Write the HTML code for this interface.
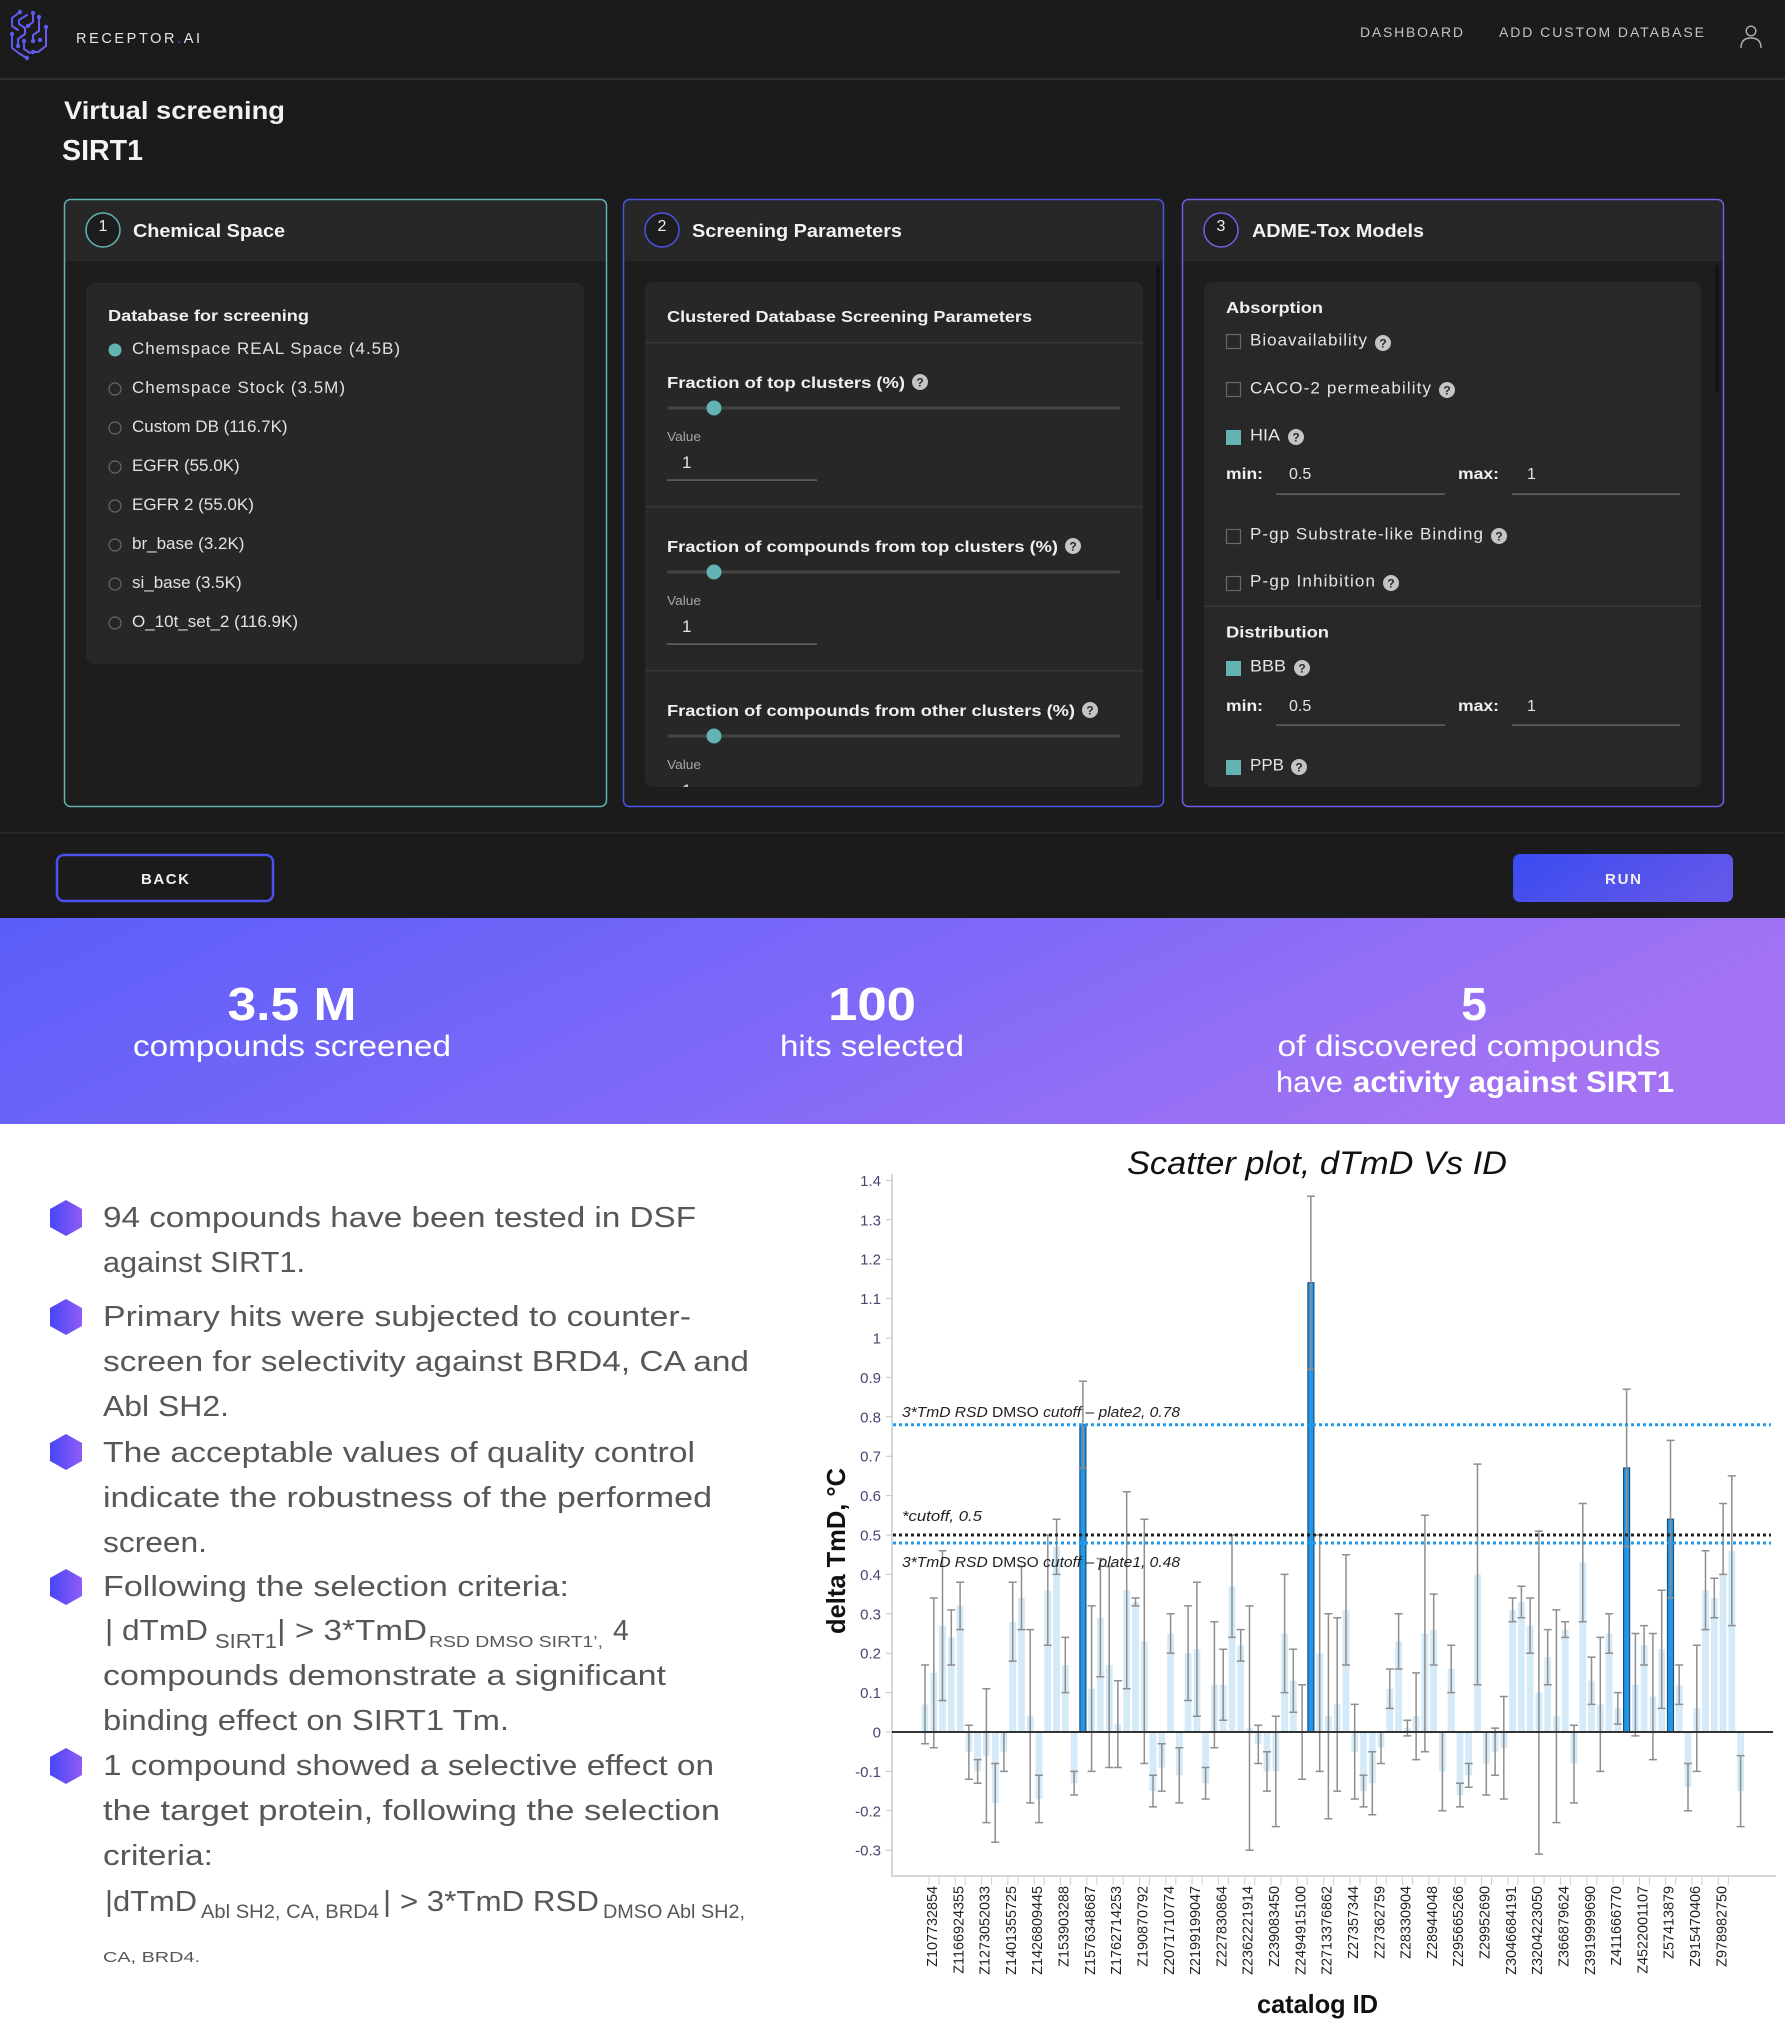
<!DOCTYPE html>
<html><head><meta charset="utf-8"><style>html,body{margin:0;padding:0;background:#fff;}svg{display:block;}</style></head>
<body>
<svg xmlns="http://www.w3.org/2000/svg" width="1785" height="2040" viewBox="0 0 1785 2040" font-family="'Liberation Sans', Arial, sans-serif">
<defs>
<linearGradient id="ban" x1="0" y1="0" x2="1" y2="0.25"><stop offset="0" stop-color="#5b5ef9"/><stop offset="0.55" stop-color="#7f69f8"/><stop offset="1" stop-color="#a373f3"/></linearGradient>
<linearGradient id="run" x1="0" y1="0" x2="1" y2="0.3"><stop offset="0" stop-color="#3a4bf0"/><stop offset="1" stop-color="#6157ea"/></linearGradient>
<linearGradient id="hex" x1="0" y1="0" x2="1" y2="0"><stop offset="0" stop-color="#4646f7"/><stop offset="1" stop-color="#905cf5"/></linearGradient>
<linearGradient id="logo" x1="0" y1="0" x2="1" y2="1"><stop offset="0" stop-color="#4a5cf0"/><stop offset="1" stop-color="#7a5af2"/></linearGradient>
<clipPath id="c2"><rect x="645" y="282" width="498" height="505" rx="8"/></clipPath>
</defs>

<!-- backgrounds -->
<rect width="1785" height="918" fill="#1b1b1b"/>
<rect y="918" width="1785" height="206" fill="url(#ban)"/>
<rect y="1124" width="1785" height="916" fill="#ffffff"/>
<rect y="78" width="1785" height="2" fill="#2f2f2f"/>

<!-- logo -->
<g stroke="url(#logo)" stroke-width="2" fill="none" stroke-linecap="round" stroke-linejoin="round">
<path d="M20 12 L12 18 L12 26 L18 30"/>
<path d="M27 15 L19 20 L19 24 L25 28 L25 34 L18 39 L18 46"/>
<path d="M33 13 V22 L28 26"/>
<path d="M39 17 V31 L33 35 V41"/>
<path d="M12 34 V48 L20 54 L27 58"/>
<path d="M24 41 V49 L30 53"/>
<path d="M46 27 V46 L38 52 L33 52"/>
<path d="M40 40 V46"/>
</g>
<g fill="#5a5cf0">
<circle cx="20" cy="12" r="2.2"/><circle cx="33" cy="13" r="2.2"/><circle cx="39" cy="17" r="2.2"/><circle cx="46" cy="27" r="2.2"/><circle cx="12" cy="34" r="2.2"/><circle cx="27" cy="58" r="2.2"/><circle cx="33" cy="52" r="2.2"/><circle cx="28" cy="26" r="2.2"/><circle cx="33" cy="41" r="2.2"/><circle cx="18" cy="46" r="2.2"/><circle cx="40" cy="40" r="2.2"/><circle cx="24" cy="41" r="2.2"/>
</g>
<text x="76" y="43" font-size="14.5" fill="#e4e4e4" textLength="124" lengthAdjust="spacing">RECEPTOR<tspan fill="#4d5cf2">.</tspan>AI</text>

<!-- nav -->
<text x="1360" y="37" font-size="14" fill="#c4c4c4" textLength="103" lengthAdjust="spacing">DASHBOARD</text>
<text x="1499" y="37" font-size="14" fill="#c4c4c4" textLength="205" lengthAdjust="spacing">ADD CUSTOM DATABASE</text>
<circle cx="1751" cy="31" r="4.8" fill="none" stroke="#b0b0b0" stroke-width="1.4"/>
<path d="M1741 48 Q1741 38 1751 38 Q1761 38 1761 48" fill="none" stroke="#b0b0b0" stroke-width="1.4"/>

<!-- titles -->
<text x="64" y="119" font-size="25" font-weight="bold" fill="#f2f2f2" textLength="221" lengthAdjust="spacingAndGlyphs">Virtual screening</text>
<text x="62" y="160" font-size="29" font-weight="bold" fill="#f2f2f2" textLength="81" lengthAdjust="spacingAndGlyphs">SIRT1</text>

<!-- PANEL 1 -->
<rect x="64.5" y="199.5" width="542" height="607" rx="6" fill="#1d1d1d"/>
<path d="M65.5 261 V206 Q65.5 200.5 71 200.5 H600 Q605.5 200.5 605.5 206 V261 Z" fill="#272727"/>
<rect x="64.5" y="199.5" width="542" height="607" rx="6" fill="none" stroke="#63b3b4" stroke-width="1.5"/>
<circle cx="103" cy="230" r="17" fill="#1d1d1d" stroke="#63b3b4" stroke-width="1.5"/>
<text x="103" y="231" font-size="16" fill="#f0f0f0" text-anchor="middle">1</text>
<text x="133" y="237" font-size="18.5" font-weight="bold" fill="#f2f2f2" textLength="152" lengthAdjust="spacingAndGlyphs">Chemical Space</text>
<rect x="86" y="283" width="498" height="381" rx="8" fill="#272727"/>
<text x="108" y="321" font-size="16" font-weight="bold" fill="#f0f0f0" textLength="201" lengthAdjust="spacingAndGlyphs">Database for screening</text>
<g font-size="17" fill="#e2e2e2">
<circle cx="115" cy="350" r="6.5" fill="#63b3b4"/>
<text x="132" y="354" textLength="268" lengthAdjust="spacing">Chemspace REAL Space (4.5B)</text>
<circle cx="115" cy="389" r="6" fill="none" stroke="#6a6a6a" stroke-width="1.2"/>
<text x="132" y="393" textLength="213" lengthAdjust="spacing">Chemspace Stock (3.5M)</text>
<circle cx="115" cy="428" r="6" fill="none" stroke="#6a6a6a" stroke-width="1.2"/>
<text x="132" y="432">Custom DB (116.7K)</text>
<circle cx="115" cy="467" r="6" fill="none" stroke="#6a6a6a" stroke-width="1.2"/>
<text x="132" y="471">EGFR (55.0K)</text>
<circle cx="115" cy="506" r="6" fill="none" stroke="#6a6a6a" stroke-width="1.2"/>
<text x="132" y="510">EGFR 2 (55.0K)</text>
<circle cx="115" cy="545" r="6" fill="none" stroke="#6a6a6a" stroke-width="1.2"/>
<text x="132" y="549">br_base (3.2K)</text>
<circle cx="115" cy="584" r="6" fill="none" stroke="#6a6a6a" stroke-width="1.2"/>
<text x="132" y="588">si_base (3.5K)</text>
<circle cx="115" cy="623" r="6" fill="none" stroke="#6a6a6a" stroke-width="1.2"/>
<text x="132" y="627">O_10t_set_2 (116.9K)</text>
</g>

<!-- PANEL 2 -->
<rect x="623.5" y="199.5" width="540" height="607" rx="6" fill="#1d1d1d"/>
<path d="M624.5 261 V206 Q624.5 200.5 630 200.5 H1157 Q1162.5 200.5 1162.5 206 V261 Z" fill="#272727"/>
<rect x="623.5" y="199.5" width="540" height="607" rx="6" fill="none" stroke="#4a55e8" stroke-width="1.5"/>
<circle cx="662" cy="230" r="17" fill="#1d1d1d" stroke="#4a55e8" stroke-width="1.5"/>
<text x="662" y="231" font-size="16" fill="#f0f0f0" text-anchor="middle">2</text>
<text x="692" y="237" font-size="18.5" font-weight="bold" fill="#f2f2f2" textLength="210" lengthAdjust="spacingAndGlyphs">Screening Parameters</text>
<rect x="1156" y="265" width="4" height="335" rx="2" fill="#131313"/>
<g clip-path="url(#c2)">
<rect x="645" y="282" width="498" height="505" fill="#272727"/>
<text x="667" y="322" font-size="16" font-weight="bold" fill="#f0f0f0" textLength="365" lengthAdjust="spacingAndGlyphs">Clustered Database Screening Parameters</text>
<rect x="645" y="342" width="498" height="1.5" fill="#363636"/>
<g>
<rect x="667" y="406.5" width="453" height="3" rx="1.5" fill="#444"/>
<circle cx="714" cy="408" r="7.5" fill="#63b3b4"/>
<text x="667" y="441" font-size="13" fill="#a6a6a6" textLength="34" lengthAdjust="spacingAndGlyphs">Value</text>
<text x="682" y="468" font-size="17" fill="#e2e2e2">1</text>
<rect x="667" y="479.5" width="150" height="1.2" fill="#747474"/>
</g>
<text x="667" y="388" font-size="16" font-weight="bold" fill="#f0f0f0" textLength="238" lengthAdjust="spacingAndGlyphs">Fraction of top clusters (%)</text>
<circle cx="920" cy="382" r="8" fill="#c4c4c4"/><text x="920" y="386.5" font-size="12" font-weight="bold" fill="#2a2a2a" text-anchor="middle">?</text>
<rect x="645" y="506" width="498" height="1.5" fill="#363636"/>
<g transform="translate(0,164)">
<rect x="667" y="406.5" width="453" height="3" rx="1.5" fill="#444"/>
<circle cx="714" cy="408" r="7.5" fill="#63b3b4"/>
<text x="667" y="441" font-size="13" fill="#a6a6a6" textLength="34" lengthAdjust="spacingAndGlyphs">Value</text>
<text x="682" y="468" font-size="17" fill="#e2e2e2">1</text>
<rect x="667" y="479.5" width="150" height="1.2" fill="#747474"/>
</g>
<text x="667" y="552" font-size="16" font-weight="bold" fill="#f0f0f0" textLength="391" lengthAdjust="spacingAndGlyphs">Fraction of compounds from top clusters (%)</text>
<circle cx="1073" cy="546" r="8" fill="#c4c4c4"/><text x="1073" y="550.5" font-size="12" font-weight="bold" fill="#2a2a2a" text-anchor="middle">?</text>
<rect x="645" y="670" width="498" height="1.5" fill="#363636"/>
<g transform="translate(0,328)">
<rect x="667" y="406.5" width="453" height="3" rx="1.5" fill="#444"/>
<circle cx="714" cy="408" r="7.5" fill="#63b3b4"/>
<text x="667" y="441" font-size="13" fill="#a6a6a6" textLength="34" lengthAdjust="spacingAndGlyphs">Value</text>
<text x="682" y="468" font-size="17" fill="#e2e2e2">1</text>
</g>
<text x="667" y="716" font-size="16" font-weight="bold" fill="#f0f0f0" textLength="408" lengthAdjust="spacingAndGlyphs">Fraction of compounds from other clusters (%)</text>
<circle cx="1090" cy="710" r="8" fill="#c4c4c4"/><text x="1090" y="714.5" font-size="12" font-weight="bold" fill="#2a2a2a" text-anchor="middle">?</text>
</g>

<!-- PANEL 3 -->
<rect x="1182.5" y="199.5" width="541" height="607" rx="6" fill="#1d1d1d"/>
<path d="M1183.5 261 V206 Q1183.5 200.5 1189 200.5 H1717 Q1722.5 200.5 1722.5 206 V261 Z" fill="#272727"/>
<rect x="1182.5" y="199.5" width="541" height="607" rx="6" fill="none" stroke="#7a5ae8" stroke-width="1.5"/>
<circle cx="1221" cy="230" r="17" fill="#1d1d1d" stroke="#7a5ae8" stroke-width="1.5"/>
<text x="1221" y="231" font-size="16" fill="#f0f0f0" text-anchor="middle">3</text>
<text x="1252" y="237" font-size="18.5" font-weight="bold" fill="#f2f2f2" textLength="172" lengthAdjust="spacingAndGlyphs">ADME-Tox Models</text>
<rect x="1715" y="265" width="4" height="127" rx="2" fill="#131313"/>
<rect x="1204" y="282" width="497" height="505" rx="8" fill="#282828"/>
<g fill="#e4e4e4" font-size="17">
<text x="1226" y="313" font-size="16" font-weight="bold" fill="#f0f0f0" textLength="97" lengthAdjust="spacingAndGlyphs">Absorption</text>
<rect x="1226.5" y="334.5" width="14" height="14" fill="none" stroke="#6a6a6a" stroke-width="1.2"/>
<text x="1250" y="345.5" textLength="117" lengthAdjust="spacing">Bioavailability</text>
<rect x="1226.5" y="382.5" width="14" height="14" fill="none" stroke="#6a6a6a" stroke-width="1.2"/>
<text x="1250" y="393.5" textLength="181" lengthAdjust="spacing">CACO-2 permeability</text>
<rect x="1226" y="430" width="15" height="15" fill="#63b3b4"/>
<text x="1250" y="440.5" textLength="30" lengthAdjust="spacingAndGlyphs">HIA</text>
<text x="1226" y="479" font-size="16" font-weight="bold" fill="#f0f0f0" textLength="37" lengthAdjust="spacingAndGlyphs">min:</text>
<text x="1289" y="479" font-size="16">0.5</text>
<rect x="1276" y="493.5" width="169" height="1.2" fill="#747474"/>
<text x="1458" y="479" font-size="16" font-weight="bold" fill="#f0f0f0" textLength="41" lengthAdjust="spacingAndGlyphs">max:</text>
<text x="1527" y="479" font-size="16">1</text>
<rect x="1512" y="493.5" width="168" height="1.2" fill="#747474"/>
<rect x="1226.5" y="529.5" width="14" height="14" fill="none" stroke="#6a6a6a" stroke-width="1.2"/>
<text x="1250" y="539.5" textLength="233" lengthAdjust="spacing">P-gp Substrate-like Binding</text>
<rect x="1226.5" y="576.5" width="14" height="14" fill="none" stroke="#6a6a6a" stroke-width="1.2"/>
<text x="1250" y="586.5" textLength="125" lengthAdjust="spacing">P-gp Inhibition</text>
<rect x="1204" y="605.5" width="497" height="1.5" fill="#363636"/>
<text x="1226" y="637.5" font-size="16" font-weight="bold" fill="#f0f0f0" textLength="103" lengthAdjust="spacingAndGlyphs">Distribution</text>
<rect x="1226" y="661" width="15" height="15" fill="#63b3b4"/>
<text x="1250" y="671.5" textLength="36" lengthAdjust="spacingAndGlyphs">BBB</text>
<text x="1226" y="711" font-size="16" font-weight="bold" fill="#f0f0f0" textLength="37" lengthAdjust="spacingAndGlyphs">min:</text>
<text x="1289" y="711" font-size="16">0.5</text>
<rect x="1276" y="724.5" width="169" height="1.2" fill="#747474"/>
<text x="1458" y="711" font-size="16" font-weight="bold" fill="#f0f0f0" textLength="41" lengthAdjust="spacingAndGlyphs">max:</text>
<text x="1527" y="711" font-size="16">1</text>
<rect x="1512" y="724.5" width="168" height="1.2" fill="#747474"/>
<rect x="1226" y="760" width="15" height="15" fill="#63b3b4"/>
<text x="1250" y="770.5" textLength="34" lengthAdjust="spacingAndGlyphs">PPB</text>
</g>
<g fill="#c4c4c4">
<circle cx="1383" cy="343" r="8"/><circle cx="1447" cy="390" r="8"/><circle cx="1296" cy="437" r="8"/><circle cx="1499" cy="536" r="8"/><circle cx="1391" cy="583" r="8"/><circle cx="1302" cy="668" r="8"/><circle cx="1299" cy="767" r="8"/>
</g>
<g font-size="12" font-weight="bold" fill="#2a2a2a" text-anchor="middle">
<text x="1383" y="347.5">?</text><text x="1447" y="394.5">?</text><text x="1296" y="441.5">?</text><text x="1499" y="540.5">?</text><text x="1391" y="587.5">?</text><text x="1302" y="672.5">?</text><text x="1299" y="771.5">?</text>
</g>

<!-- bottom bar -->
<rect y="832" width="1785" height="1.5" fill="#2c2c2c"/>
<rect x="57" y="855" width="216" height="46" rx="7" fill="#1b1b1b" stroke="#4b50ee" stroke-width="2.5"/>
<text x="165" y="884" font-size="15" font-weight="bold" fill="#f0f0f0" text-anchor="middle" textLength="48" lengthAdjust="spacing">BACK</text>
<rect x="1513" y="854" width="220" height="48" rx="7" fill="url(#run)"/>
<text x="1623" y="884" font-size="15" font-weight="bold" fill="#f0f0f0" text-anchor="middle" textLength="36" lengthAdjust="spacing">RUN</text>

<!-- banner -->
<g fill="#ffffff" text-anchor="middle">
<text x="292" y="1020" font-size="46" font-weight="bold" textLength="129" lengthAdjust="spacingAndGlyphs">3.5 M</text>
<text x="292" y="1056" font-size="30" textLength="318" lengthAdjust="spacingAndGlyphs">compounds screened</text>
<text x="872" y="1020" font-size="46" font-weight="bold" textLength="88" lengthAdjust="spacingAndGlyphs">100</text>
<text x="872" y="1056" font-size="30" textLength="184" lengthAdjust="spacingAndGlyphs">hits selected</text>
<text x="1474" y="1020" font-size="46" font-weight="bold">5</text>
<text x="1469" y="1056" font-size="30" textLength="383" lengthAdjust="spacingAndGlyphs">of discovered compounds</text>
</g>
<text x="1276" y="1092" font-size="30" fill="#fff" textLength="67" lengthAdjust="spacingAndGlyphs">have</text>
<text x="1353" y="1092" font-size="30" font-weight="bold" fill="#fff" textLength="321" lengthAdjust="spacingAndGlyphs">activity against SIRT1</text>

<!-- left bullets -->
<g fill="url(#hex)">
<path d="M66 1200 L82 1209 L82 1227 L66 1236 L50 1227 L50 1209 Z"/>
<path d="M66 1299 L82 1308 L82 1326 L66 1335 L50 1326 L50 1308 Z"/>
<path d="M66 1434 L82 1443 L82 1461 L66 1470 L50 1461 L50 1443 Z"/>
<path d="M66 1569 L82 1578 L82 1596 L66 1605 L50 1596 L50 1578 Z"/>
<path d="M66 1748 L82 1757 L82 1775 L66 1784 L50 1775 L50 1757 Z"/>
</g>
<g font-size="28.5" fill="#57575a">
<text x="103" y="1227" textLength="593" lengthAdjust="spacingAndGlyphs">94 compounds have been tested in DSF</text>
<text x="103" y="1272" textLength="202" lengthAdjust="spacingAndGlyphs">against SIRT1.</text>
<text x="103" y="1326" textLength="588" lengthAdjust="spacingAndGlyphs">Primary hits were subjected to counter-</text>
<text x="103" y="1371" textLength="646" lengthAdjust="spacingAndGlyphs">screen for selectivity against BRD4, CA and</text>
<text x="103" y="1416" textLength="126" lengthAdjust="spacingAndGlyphs">Abl SH2.</text>
<text x="103" y="1462" textLength="592" lengthAdjust="spacingAndGlyphs">The acceptable values of quality control</text>
<text x="103" y="1507" textLength="609" lengthAdjust="spacingAndGlyphs">indicate the robustness of the performed</text>
<text x="103" y="1552" textLength="104" lengthAdjust="spacingAndGlyphs">screen.</text>
<text x="103" y="1596" textLength="466" lengthAdjust="spacingAndGlyphs">Following the selection criteria:</text>
<text x="105" y="1640" textLength="103" lengthAdjust="spacingAndGlyphs">| dTmD</text>
<text x="215" y="1648" font-size="20" textLength="62" lengthAdjust="spacingAndGlyphs">SIRT1</text>
<text x="277" y="1640" textLength="150" lengthAdjust="spacingAndGlyphs">| &gt; 3*TmD</text>
<text x="429" y="1647" font-size="16" textLength="174" lengthAdjust="spacingAndGlyphs">RSD DMSO SIRT1’,</text>
<text x="613" y="1640">4</text>
<text x="103" y="1685" textLength="563" lengthAdjust="spacingAndGlyphs">compounds demonstrate a significant</text>
<text x="103" y="1730" textLength="406" lengthAdjust="spacingAndGlyphs">binding effect on SIRT1 Tm.</text>
<text x="103" y="1775" textLength="611" lengthAdjust="spacingAndGlyphs">1 compound showed a selective effect on</text>
<text x="103" y="1820" textLength="617" lengthAdjust="spacingAndGlyphs">the target protein, following the selection</text>
<text x="103" y="1865" textLength="110" lengthAdjust="spacingAndGlyphs">criteria:</text>
<text x="105" y="1911" textLength="92" lengthAdjust="spacingAndGlyphs">|dTmD</text>
<text x="201" y="1918" font-size="19" textLength="178" lengthAdjust="spacingAndGlyphs">Abl SH2, CA, BRD4</text>
<text x="383" y="1911" textLength="216" lengthAdjust="spacingAndGlyphs">| &gt; 3*TmD RSD</text>
<text x="603" y="1918" font-size="19" textLength="142" lengthAdjust="spacingAndGlyphs">DMSO Abl SH2,</text>
<text x="103" y="1962" font-size="15" textLength="97" lengthAdjust="spacingAndGlyphs">CA, BRD4.</text>
</g>

<!-- CHART -->
<text x="1127" y="1174" font-size="32" font-style="italic" fill="#111" textLength="380" lengthAdjust="spacingAndGlyphs">Scatter plot, dTmD Vs ID</text>
<rect x="891" y="1174" width="2" height="703" fill="#d6d6d6"/>
<rect x="891" y="1875" width="885" height="2" fill="#d6d6d6"/>
<g stroke="#c4c4c4" stroke-width="1">
<path d="M886 1180.4h6M886 1219.8h6M886 1259.2h6M886 1298.6h6M886 1338h6M886 1377.4h6M886 1416.8h6M886 1456.2h6M886 1495.6h6M886 1535h6M886 1574.4h6M886 1613.8h6M886 1653.2h6M886 1692.6h6M886 1732h6M886 1771.4h6M886 1810.8h6M886 1850.2h6"/>
</g>
<g font-size="15" fill="#4a4474" text-anchor="end">
<text x="881" y="1186">1.4</text><text x="881" y="1225.3">1.3</text><text x="881" y="1264.7">1.2</text><text x="881" y="1304.1">1.1</text><text x="881" y="1343.5">1</text><text x="881" y="1382.9">0.9</text><text x="881" y="1422.3">0.8</text><text x="881" y="1461.7">0.7</text><text x="881" y="1501.1">0.6</text><text x="881" y="1540.5">0.5</text><text x="881" y="1579.9">0.4</text><text x="881" y="1619.3">0.3</text><text x="881" y="1658.7">0.2</text><text x="881" y="1698.1">0.1</text><text x="881" y="1737.5">0</text><text x="881" y="1776.9">-0.1</text><text x="881" y="1816.3">-0.2</text><text x="881" y="1855.7">-0.3</text>
</g>
<text transform="translate(845,1551) rotate(-90)" font-size="26" font-weight="bold" fill="#111" text-anchor="middle" textLength="166" lengthAdjust="spacingAndGlyphs">delta TmD, °C</text>

<!-- light bars -->
<path fill="#d5eaf8" d="M921.6 1704.4h6.8v27.6h-6.8zM930.4 1672.9h6.8v59.1h-6.8zM939.1 1625.6h6.8v106.4h-6.8zM947.9 1637.4h6.8v94.6h-6.8zM956.7 1605.9h6.8v126.1h-6.8zM965.5 1732h6.8v19.7h-6.8zM974.2 1732h6.8v39.4h-6.8zM983 1732h6.8v23.6h-6.8zM991.8 1732h6.8v70.9h-6.8zM1000.5 1732h6.8v19.7h-6.8zM1009.3 1621.7h6.8v110.3h-6.8zM1018.1 1598h6.8v134h-6.8zM1026.8 1716.2h6.8v15.8h-6.8zM1035.6 1732h6.8v67h-6.8zM1044.4 1590.2h6.8v141.8h-6.8zM1053.2 1546.8h6.8v185.2h-6.8zM1061.9 1665h6.8v67h-6.8zM1070.7 1732h6.8v51.2h-6.8zM1088.2 1688.7h6.8v43.3h-6.8zM1097 1617.7h6.8v114.3h-6.8zM1105.8 1665h6.8v67h-6.8zM1114.5 1724.1h6.8v7.9h-6.8zM1123.3 1590.2h6.8v141.8h-6.8zM1132.1 1602h6.8v130h-6.8zM1140.9 1641.4h6.8v90.6h-6.8zM1149.6 1732h6.8v59.1h-6.8zM1158.4 1732h6.8v35.5h-6.8zM1167.2 1633.5h6.8v98.5h-6.8zM1175.9 1732h6.8v43.3h-6.8zM1184.7 1653.2h6.8v78.8h-6.8zM1193.5 1649.3h6.8v82.7h-6.8zM1202.2 1732h6.8v51.2h-6.8zM1211 1684.7h6.8v47.3h-6.8zM1219.8 1684.7h6.8v47.3h-6.8zM1228.6 1586.2h6.8v145.8h-6.8zM1237.3 1645.3h6.8v86.7h-6.8zM1246.1 1728.1h6.8v3.9h-6.8zM1254.9 1732h6.8v11.8h-6.8zM1263.6 1732h6.8v39.4h-6.8zM1272.4 1732h6.8v39.4h-6.8zM1281.2 1633.5h6.8v98.5h-6.8zM1289.9 1680.8h6.8v51.2h-6.8zM1316.3 1653.2h6.8v78.8h-6.8zM1325 1716.2h6.8v15.8h-6.8zM1333.8 1704.4h6.8v27.6h-6.8zM1342.6 1609.9h6.8v122.1h-6.8zM1351.3 1732h6.8v19.7h-6.8zM1360.1 1732h6.8v59.1h-6.8zM1368.9 1732h6.8v51.2h-6.8zM1377.6 1732h6.8v15.8h-6.8zM1386.4 1688.7h6.8v43.3h-6.8zM1395.2 1641.4h6.8v90.6h-6.8zM1404 1728.1h6.8v3.9h-6.8zM1412.7 1716.2h6.8v15.8h-6.8zM1421.5 1633.5h6.8v98.5h-6.8zM1430.3 1629.6h6.8v102.4h-6.8zM1439 1732h6.8v39.4h-6.8zM1447.8 1669h6.8v63h-6.8zM1456.6 1732h6.8v63h-6.8zM1465.3 1732h6.8v43.3h-6.8zM1474.1 1574.4h6.8v157.6h-6.8zM1482.9 1732h6.8v31.5h-6.8zM1491.7 1732h6.8v19.7h-6.8zM1500.4 1732h6.8v15.8h-6.8zM1509.2 1609.9h6.8v122.1h-6.8zM1518 1602h6.8v130h-6.8zM1526.7 1625.6h6.8v106.4h-6.8zM1535.5 1692.6h6.8v39.4h-6.8zM1544.3 1657.1h6.8v74.9h-6.8zM1553 1716.2h6.8v15.8h-6.8zM1561.8 1629.6h6.8v102.4h-6.8zM1570.6 1732h6.8v31.5h-6.8zM1579.4 1562.6h6.8v169.4h-6.8zM1588.1 1680.8h6.8v51.2h-6.8zM1596.9 1704.4h6.8v27.6h-6.8zM1605.7 1633.5h6.8v98.5h-6.8zM1614.4 1708.4h6.8v23.6h-6.8zM1632 1684.7h6.8v47.3h-6.8zM1640.7 1645.3h6.8v86.7h-6.8zM1649.5 1696.5h6.8v35.5h-6.8zM1658.3 1649.3h6.8v82.7h-6.8zM1675.8 1684.7h6.8v47.3h-6.8zM1684.6 1732h6.8v55.2h-6.8zM1693.4 1708.4h6.8v23.6h-6.8zM1702.1 1590.2h6.8v141.8h-6.8zM1710.9 1598h6.8v134h-6.8zM1719.7 1574.4h6.8v157.6h-6.8zM1728.4 1550.8h6.8v181.2h-6.8zM1737.2 1732h6.8v59.1h-6.8z"/>
<!-- dark bars -->
<g fill="#2297e8" stroke="#1b4f7c" stroke-width="1.2">
<rect x="1079.9" y="1424.7" width="6" height="307.3"/>
<rect x="1307.9" y="1282.8" width="6" height="449.2"/>
<rect x="1623.6" y="1468" width="6" height="264"/>
<rect x="1667.5" y="1519.2" width="6" height="212.8"/>
</g>
<!-- error bars -->
<path fill="none" stroke="#8e8e8e" stroke-width="1.5" d="M925 1665V1743.8M921 1665h8M921 1743.8h8M933.8 1598V1747.8M929.8 1598h8M929.8 1747.8h8M942.5 1550.8V1700.5M938.5 1550.8h8M938.5 1700.5h8M951.3 1609.9V1665M947.3 1609.9h8M947.3 1665h8M960.1 1582.3V1629.6M956.1 1582.3h8M956.1 1629.6h8M968.9 1725.3V1779.3M964.9 1725.3h8M964.9 1779.3h8M977.6 1759.6V1783.2M973.6 1759.6h8M973.6 1783.2h8M986.4 1688.7V1822.6M982.4 1688.7h8M982.4 1822.6h8M995.2 1763.5V1842.3M991.2 1763.5h8M991.2 1842.3h8M1003.9 1732V1771.4M999.9 1732h8M999.9 1771.4h8M1012.7 1582.3V1661.1M1008.7 1582.3h8M1008.7 1661.1h8M1021.5 1566.5V1629.6M1017.5 1566.5h8M1017.5 1629.6h8M1030.2 1629.6V1802.9M1026.2 1629.6h8M1026.2 1802.9h8M1039 1775.3V1822.6M1035 1775.3h8M1035 1822.6h8M1047.8 1535V1645.3M1043.8 1535h8M1043.8 1645.3h8M1056.6 1519.2V1574.4M1052.6 1519.2h8M1052.6 1574.4h8M1065.3 1637.4V1692.6M1061.3 1637.4h8M1061.3 1692.6h8M1074.1 1771.4V1795M1070.1 1771.4h8M1070.1 1795h8M1082.9 1381.3V1468M1078.9 1381.3h8M1078.9 1468h8M1091.6 1605.9V1771.4M1087.6 1605.9h8M1087.6 1771.4h8M1100.4 1558.6V1676.8M1096.4 1558.6h8M1096.4 1676.8h8M1109.2 1566.5V1767.5M1105.2 1566.5h8M1105.2 1767.5h8M1117.9 1680.8V1767.5M1113.9 1680.8h8M1113.9 1767.5h8M1126.7 1491.7V1688.7M1122.7 1491.7h8M1122.7 1688.7h8M1135.5 1598V1605.9M1131.5 1598h8M1131.5 1605.9h8M1144.3 1519.2V1763.5M1140.3 1519.2h8M1140.3 1763.5h8M1153 1775.3V1806.9M1149 1775.3h8M1149 1806.9h8M1161.8 1743.8V1791.1M1157.8 1743.8h8M1157.8 1791.1h8M1170.6 1613.8V1653.2M1166.6 1613.8h8M1166.6 1653.2h8M1179.3 1747.8V1802.9M1175.3 1747.8h8M1175.3 1802.9h8M1188.1 1605.9V1700.5M1184.1 1605.9h8M1184.1 1700.5h8M1196.9 1582.3V1716.2M1192.9 1582.3h8M1192.9 1716.2h8M1205.6 1767.5V1799M1201.6 1767.5h8M1201.6 1799h8M1214.4 1621.7V1747.8M1210.4 1621.7h8M1210.4 1747.8h8M1223.2 1649.3V1720.2M1219.2 1649.3h8M1219.2 1720.2h8M1232 1535V1637.4M1228 1535h8M1228 1637.4h8M1240.7 1629.6V1661.1M1236.7 1629.6h8M1236.7 1661.1h8M1249.5 1605.9V1850.2M1245.5 1605.9h8M1245.5 1850.2h8M1258.3 1725.3V1763.5M1254.3 1725.3h8M1254.3 1763.5h8M1267 1751.7V1791.1M1263 1751.7h8M1263 1791.1h8M1275.8 1716.2V1826.6M1271.8 1716.2h8M1271.8 1826.6h8M1284.6 1574.4V1692.6M1280.6 1574.4h8M1280.6 1692.6h8M1293.3 1649.3V1712.3M1289.3 1649.3h8M1289.3 1712.3h8M1302.1 1684.7V1779.3M1298.1 1684.7h8M1298.1 1779.3h8M1310.9 1196.2V1369.5M1306.9 1196.2h8M1306.9 1369.5h8M1319.7 1535V1771.4M1315.7 1535h8M1315.7 1771.4h8M1328.4 1613.8V1818.7M1324.4 1613.8h8M1324.4 1818.7h8M1337.2 1617.7V1791.1M1333.2 1617.7h8M1333.2 1791.1h8M1346 1554.7V1665M1342 1554.7h8M1342 1665h8M1354.7 1704.4V1799M1350.7 1704.4h8M1350.7 1799h8M1363.5 1775.3V1806.9M1359.5 1775.3h8M1359.5 1806.9h8M1372.3 1751.7V1814.7M1368.3 1751.7h8M1368.3 1814.7h8M1381 1732V1763.5M1377 1732h8M1377 1763.5h8M1389.8 1669V1708.4M1385.8 1669h8M1385.8 1708.4h8M1398.6 1613.8V1669M1394.6 1613.8h8M1394.6 1669h8M1407.4 1720.2V1735.9M1403.4 1720.2h8M1403.4 1735.9h8M1416.1 1672.9V1759.6M1412.1 1672.9h8M1412.1 1759.6h8M1424.9 1515.3V1751.7M1420.9 1515.3h8M1420.9 1751.7h8M1433.7 1594.1V1665M1429.7 1594.1h8M1429.7 1665h8M1442.4 1732V1810.8M1438.4 1732h8M1438.4 1810.8h8M1451.2 1645.3V1692.6M1447.2 1645.3h8M1447.2 1692.6h8M1460 1783.2V1806.9M1456 1783.2h8M1456 1806.9h8M1468.7 1763.5V1787.2M1464.7 1763.5h8M1464.7 1787.2h8M1477.5 1464.1V1684.7M1473.5 1464.1h8M1473.5 1684.7h8M1486.3 1732V1795M1482.3 1732h8M1482.3 1795h8M1495.1 1728.1V1775.3M1491.1 1728.1h8M1491.1 1775.3h8M1503.8 1696.5V1799M1499.8 1696.5h8M1499.8 1799h8M1512.6 1598V1621.7M1508.6 1598h8M1508.6 1621.7h8M1521.4 1586.2V1617.7M1517.4 1586.2h8M1517.4 1617.7h8M1530.1 1598V1653.2M1526.1 1598h8M1526.1 1653.2h8M1538.9 1531.1V1854.1M1534.9 1531.1h8M1534.9 1854.1h8M1547.7 1629.6V1684.7M1543.7 1629.6h8M1543.7 1684.7h8M1556.4 1609.9V1822.6M1552.4 1609.9h8M1552.4 1822.6h8M1565.2 1621.7V1637.4M1561.2 1621.7h8M1561.2 1637.4h8M1574 1725.3V1802.9M1570 1725.3h8M1570 1802.9h8M1582.8 1503.5V1621.7M1578.8 1503.5h8M1578.8 1621.7h8M1591.5 1657.1V1704.4M1587.5 1657.1h8M1587.5 1704.4h8M1600.3 1637.4V1771.4M1596.3 1637.4h8M1596.3 1771.4h8M1609.1 1613.8V1653.2M1605.1 1613.8h8M1605.1 1653.2h8M1617.8 1692.6V1724.1M1613.8 1692.6h8M1613.8 1724.1h8M1626.6 1389.2V1546.8M1622.6 1389.2h8M1622.6 1546.8h8M1635.4 1633.5V1735.9M1631.4 1633.5h8M1631.4 1735.9h8M1644.1 1625.6V1665M1640.1 1625.6h8M1640.1 1665h8M1652.9 1633.5V1759.6M1648.9 1633.5h8M1648.9 1759.6h8M1661.7 1590.2V1708.4M1657.7 1590.2h8M1657.7 1708.4h8M1670.5 1440.4V1598M1666.5 1440.4h8M1666.5 1598h8M1679.2 1665V1704.4M1675.2 1665h8M1675.2 1704.4h8M1688 1763.5V1810.8M1684 1763.5h8M1684 1810.8h8M1696.8 1645.3V1771.4M1692.8 1645.3h8M1692.8 1771.4h8M1705.5 1550.8V1629.6M1701.5 1550.8h8M1701.5 1629.6h8M1714.3 1578.3V1617.7M1710.3 1578.3h8M1710.3 1617.7h8M1723.1 1503.5V1574.4M1719.1 1503.5h8M1719.1 1574.4h8M1731.8 1475.9V1625.6M1727.8 1475.9h8M1727.8 1625.6h8M1740.6 1755.6V1826.6M1736.6 1755.6h8M1736.6 1826.6h8"/>
<!-- zero line -->
<rect x="892" y="1731" width="881" height="2" fill="#333"/>
<!-- reference lines -->
<g fill="none" stroke-width="3" stroke-dasharray="3 3">
<path d="M893 1424.7H1771" stroke="#1f9be8"/>
<path d="M893 1535H1771" stroke="#222"/>
<path d="M893 1543H1771" stroke="#1f9be8"/>
</g>
<g font-size="15" font-style="italic" fill="#222">
<text x="902" y="1417" textLength="278" lengthAdjust="spacingAndGlyphs">3*TmD RSD <tspan font-style="normal">DMSO</tspan> cutoff – plate2, 0.78</text>
<text x="902" y="1521" textLength="80" lengthAdjust="spacingAndGlyphs">*cutoff, 0.5</text>
<text x="902" y="1567" textLength="278" lengthAdjust="spacingAndGlyphs">3*TmD RSD <tspan font-style="normal">DMSO</tspan> cutoff – plate1, 0.48</text>
</g>
<!-- x ticks -->
<path stroke="#cfcfcf" stroke-width="1" fill="none" d="M929 1877v8M939 1877v8M955.3 1877v8M965.3 1877v8M981.6 1877v8M991.6 1877v8M1007.9 1877v8M1017.9 1877v8M1034.2 1877v8M1044.2 1877v8M1060.6 1877v8M1070.6 1877v8M1086.9 1877v8M1096.9 1877v8M1113.2 1877v8M1123.2 1877v8M1139.5 1877v8M1149.5 1877v8M1165.8 1877v8M1175.8 1877v8M1192.1 1877v8M1202.1 1877v8M1218.4 1877v8M1228.4 1877v8M1244.7 1877v8M1254.7 1877v8M1271 1877v8M1281 1877v8M1297.3 1877v8M1307.3 1877v8M1323.7 1877v8M1333.7 1877v8M1350 1877v8M1360 1877v8M1376.3 1877v8M1386.3 1877v8M1402.6 1877v8M1412.6 1877v8M1428.9 1877v8M1438.9 1877v8M1455.2 1877v8M1465.2 1877v8M1481.5 1877v8M1491.5 1877v8M1507.8 1877v8M1517.8 1877v8M1534.1 1877v8M1544.1 1877v8M1560.4 1877v8M1570.4 1877v8M1586.8 1877v8M1596.8 1877v8M1613.1 1877v8M1623.1 1877v8M1639.4 1877v8M1649.4 1877v8M1665.7 1877v8M1675.7 1877v8M1692 1877v8M1702 1877v8M1718.3 1877v8M1728.3 1877v8"/>
<!-- x labels -->
<g font-size="14.4" fill="#222" text-anchor="end">
<text transform="translate(937,1886) rotate(-90)">Z107732854</text>
<text transform="translate(963.3,1886) rotate(-90)">Z1166924355</text>
<text transform="translate(989.6,1886) rotate(-90)">Z1273052033</text>
<text transform="translate(1015.9,1886) rotate(-90)">Z1401355725</text>
<text transform="translate(1042.2,1886) rotate(-90)">Z1426809445</text>
<text transform="translate(1068.6,1886) rotate(-90)">Z153903288</text>
<text transform="translate(1094.9,1886) rotate(-90)">Z1576348687</text>
<text transform="translate(1121.2,1886) rotate(-90)">Z1762714253</text>
<text transform="translate(1147.5,1886) rotate(-90)">Z190870792</text>
<text transform="translate(1173.8,1886) rotate(-90)">Z2071710774</text>
<text transform="translate(1200.1,1886) rotate(-90)">Z2199199047</text>
<text transform="translate(1226.4,1886) rotate(-90)">Z227830864</text>
<text transform="translate(1252.7,1886) rotate(-90)">Z2362221914</text>
<text transform="translate(1279,1886) rotate(-90)">Z239083450</text>
<text transform="translate(1305.3,1886) rotate(-90)">Z2494915100</text>
<text transform="translate(1331.7,1886) rotate(-90)">Z2713376862</text>
<text transform="translate(1358,1886) rotate(-90)">Z27357344</text>
<text transform="translate(1384.3,1886) rotate(-90)">Z27362759</text>
<text transform="translate(1410.6,1886) rotate(-90)">Z28330904</text>
<text transform="translate(1436.9,1886) rotate(-90)">Z28944048</text>
<text transform="translate(1463.2,1886) rotate(-90)">Z295665266</text>
<text transform="translate(1489.5,1886) rotate(-90)">Z29952690</text>
<text transform="translate(1515.8,1886) rotate(-90)">Z3046684191</text>
<text transform="translate(1542.1,1886) rotate(-90)">Z3204223050</text>
<text transform="translate(1568.4,1886) rotate(-90)">Z366879624</text>
<text transform="translate(1594.8,1886) rotate(-90)">Z3919999690</text>
<text transform="translate(1621.1,1886) rotate(-90)">Z411666770</text>
<text transform="translate(1647.4,1886) rotate(-90)">Z4522001107</text>
<text transform="translate(1673.7,1886) rotate(-90)">Z57413879</text>
<text transform="translate(1700,1886) rotate(-90)">Z915470406</text>
<text transform="translate(1726.3,1886) rotate(-90)">Z978982750</text>
</g>
<text x="1257" y="2013" font-size="26" font-weight="bold" fill="#111" textLength="121" lengthAdjust="spacingAndGlyphs">catalog ID</text>
</svg>
</body></html>
